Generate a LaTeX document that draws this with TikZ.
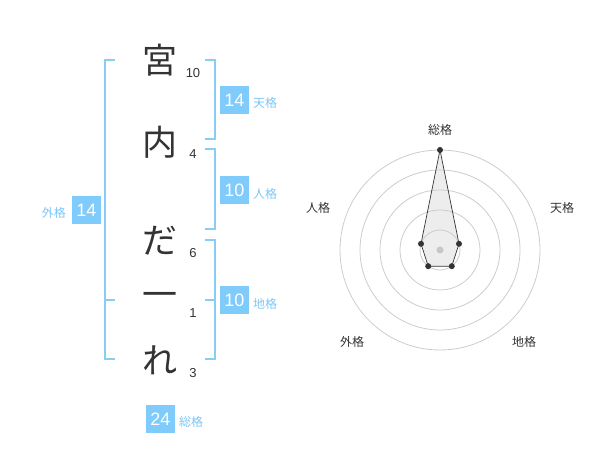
\documentclass[tikz,border=0pt]{standalone}
\usepackage{fontspec}
\setmainfont{Liberation Sans}
\newfontfamily\jp{Noto Sans CJK JP}
\definecolor{brk}{HTML}{88CCF8}
\definecolor{boxc}{HTML}{7FCBFB}
\definecolor{lbl}{HTML}{7DC6F5}
\definecolor{ink}{HTML}{333333}
\begin{document}
\begin{tikzpicture}[x=1pt,y=-1pt,
  bigchar/.style={font=\jp\fontsize{35}{35}\selectfont, text=ink, inner sep=0pt},
  strokes/.style={font=\fontsize{13}{13}\selectfont, text=ink, inner sep=0pt},
  valbox/.style={fill=boxc, text=white, font=\fontsize{18}{18}\selectfont, minimum width=29pt, minimum height=28pt, inner sep=0pt},
  kaku/.style={font=\jp\fontsize{12}{12}\selectfont, text=lbl, inner sep=0pt},
  bracket/.style={draw=brk, line width=1.6pt},
  ring/.style={draw=black!20, line width=0.8pt},
  axlabel/.style={font=\jp\fontsize{12}{12}\selectfont, text=ink, inner sep=0pt},
  dot/.style={circle, fill=ink, inner sep=0pt, minimum size=6pt}]
\useasboundingbox (0,0) rectangle (600,470);
% big characters
\node[bigchar] (c1) at (160,60) {宮};
\node[bigchar] (c2) at (160,142) {内};
\node[bigchar] (c3) at (160,241) {だ};
\node[bigchar] (c4) at (160,300) {一};
\node[bigchar] (c5) at (160,360) {れ};
% stroke counts
\node[strokes] (s1) at (193,73) {10};
\node[strokes] (s2) at (193,154) {4};
\node[strokes] (s3) at (193,253) {6};
\node[strokes] (s4) at (193,313) {1};
\node[strokes] (s5) at (193,373) {3};
% brackets
\draw[bracket] (115,60) -- (105,60) -- (105,359) -- (115,359);
\draw[bracket] (105,300) -- (115,300);
\draw[bracket] (205,60) -- (215,60) -- (215,139) -- (205,139);
\draw[bracket] (205,149) -- (215,149) -- (215,229) -- (205,229);
\draw[bracket] (205,240) -- (215,240) -- (215,359) -- (205,359);
\draw[bracket] (205,300) -- (215,300);
% values
\node[valbox] (ten) at (234.5,100) {14};
\node[kaku, anchor=west] (tenl) at (253,103) {天格};
\node[valbox] (jin) at (234.5,190) {10};
\node[kaku, anchor=west] (jinl) at (253,194) {人格};
\node[valbox] (chi) at (234.5,300) {10};
\node[kaku, anchor=west] (chil) at (253,304) {地格};
\node[valbox] (gai) at (86.5,210) {14};
\node[kaku, anchor=east] (gail) at (66,213) {外格};
\node[valbox] (sou) at (160.5,419) {24};
\node[kaku, anchor=west] (soul) at (179,422) {総格};
% radar
\coordinate (O) at (440,250);
\coordinate (pS) at (440,150);
\coordinate (pT) at (459.0,243.8);
\coordinate (pC) at (451.8,266.2);
\coordinate (pG) at (428.2,266.2);
\coordinate (pJ) at (421.0,243.8);
\fill[black!7] (pS) -- (pT) -- (pC) -- (pG) -- (pJ) -- cycle;
\foreach \r in {20,40,60,80,100} \draw[ring] (O) circle[radius=\r];
\draw[draw=ink, line width=0.7pt] (pS) -- (pT) -- (pC) -- (pG) -- (pJ) -- cycle;
\foreach \p in {pS,pT,pC,pG,pJ} \node[dot] at (\p) {};
\node[circle, fill=black!22, inner sep=0pt, minimum size=7pt] (ctr) at (O) {};
\node[axlabel] (aS) at (440,130) {総格};
\node[axlabel] (aT) at (562,208) {天格};
\node[axlabel] (aC) at (524,342) {地格};
\node[axlabel] (aG) at (352,342) {外格};
\node[axlabel] (aJ) at (318,208) {人格};
\end{tikzpicture}
\end{document}
